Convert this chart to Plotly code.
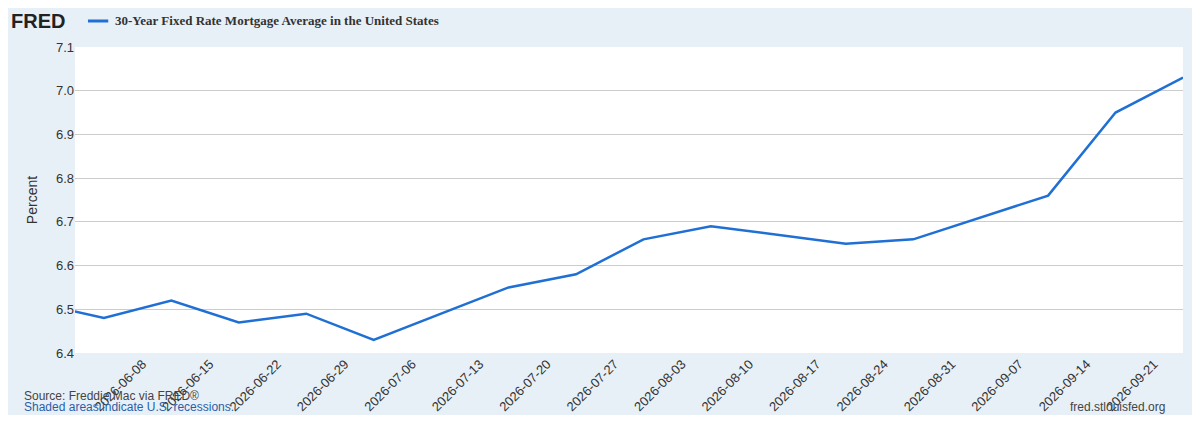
import plotly.graph_objects as go

dates = ["2026-05-28", "2026-06-04", "2026-06-11", "2026-06-18", "2026-06-25", "2026-07-02",
         "2026-07-09", "2026-07-16", "2026-07-23", "2026-07-30", "2026-08-06", "2026-08-13",
         "2026-08-20", "2026-08-27", "2026-09-03", "2026-09-10", "2026-09-17", "2026-09-24"]
rates = [6.515, 6.48, 6.52, 6.47, 6.49, 6.43, 6.49, 6.55, 6.58, 6.66, 6.69, 6.67,
         6.65, 6.66, 6.71, 6.76, 6.95, 7.03]
tick_dates = ["2026-06-08", "2026-06-15", "2026-06-22", "2026-06-29", "2026-07-06", "2026-07-13",
              "2026-07-20", "2026-07-27", "2026-08-03", "2026-08-10", "2026-08-17", "2026-08-24",
              "2026-08-31", "2026-09-07", "2026-09-14", "2026-09-21"]

fig = go.Figure()
fig.add_trace(go.Scatter(x=dates, y=rates, mode="lines",
                         line=dict(color="#1f6fd4", width=2.5), showlegend=False))

fig.update_layout(
    width=1184, height=407,
    paper_bgcolor="#e8f0f7", plot_bgcolor="white",
    margin=dict(l=67, r=9, t=39, b=62),
    font=dict(family="Liberation Sans, Arial", size=13, color="#333"),
    xaxis=dict(range=["2026-06-01", "2026-09-24"], tickvals=tick_dates, ticktext=tick_dates,
               tickangle=-45, showgrid=False, ticks="", automargin=False,
               tickfont=dict(size=13, color="#333")),
    yaxis=dict(range=[6.4, 7.1], dtick=0.1, tickformat=".1f", gridcolor="#cccccc",
               zeroline=False, ticks="", automargin=False,
               title=dict(text="Percent", font=dict(size=14)),
               tickfont=dict(size=13, color="#333")),
    annotations=[
        dict(xref="paper", yref="paper", x=-0.0595, y=1.085, xanchor="left", yanchor="middle",
             text="<b>FRED</b>", showarrow=False,
             font=dict(family="Liberation Sans, Arial", size=20, color="#222")),
        dict(xref="paper", yref="paper", x=0.034, y=1.085, xanchor="left", yanchor="middle",
             text="<b>30-Year Fixed Rate Mortgage Average in the United States</b>", showarrow=False,
             font=dict(family="Liberation Serif, Times New Roman", size=13, color="#333")),
        dict(xref="paper", yref="paper", x=-0.048, y=-0.14, xanchor="left", yanchor="middle",
             text="Source: Freddie Mac via FRED®", showarrow=False,
             font=dict(size=12, color="#444")),
        dict(xref="paper", yref="paper", x=-0.048, y=-0.178, xanchor="left", yanchor="middle",
             text="Shaded areas indicate U.S. recessions.", showarrow=False,
             font=dict(size=12, color="#2a5fa8")),
        dict(xref="paper", yref="paper", x=0.9856, y=-0.178, xanchor="right", yanchor="middle",
             text="fred.stlouisfed.org", showarrow=False,
             font=dict(size=12, color="#444")),
    ],
    shapes=[dict(type="line", xref="paper", yref="paper", x0=0.0117, x1=0.03, y0=1.085, y1=1.085,
                 line=dict(color="#1f6fd4", width=3))],
)

fig.write_html("out.html")
